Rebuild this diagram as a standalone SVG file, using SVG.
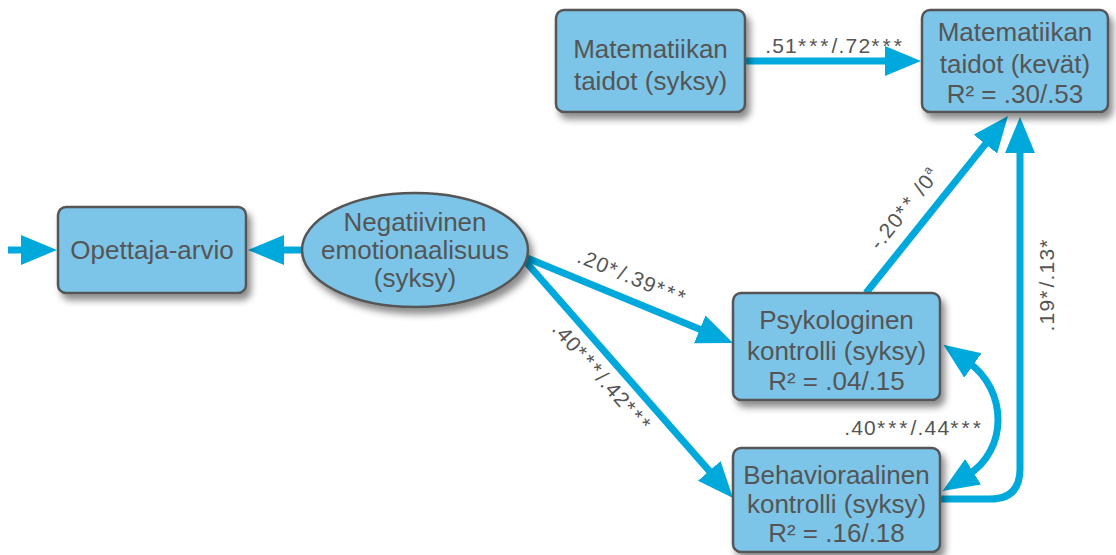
<svg xmlns="http://www.w3.org/2000/svg" width="1116" height="555" viewBox="0 0 1116 555">
<defs>
<filter id="sh" x="-20%" y="-20%" width="140%" height="150%">
<feDropShadow dx="4" dy="6" stdDeviation="3.5" flood-color="#000" flood-opacity="0.45"/>
</filter>
<marker id="ah" markerUnits="userSpaceOnUse" markerWidth="38" markerHeight="32" refX="6" refY="15" orient="auto-start-reverse">
<path d="M0,0 L36,15 L0,30 Z" fill="#00a9dc"/>
</marker>
</defs>
<style>
.box{fill:#7cc5e8;stroke:#555;stroke-width:2.5}
.t{font-family:"Liberation Sans",Arial,sans-serif;font-size:26px;fill:#555;text-anchor:middle}
.l{font-family:"Liberation Sans",Arial,sans-serif;font-size:21px;fill:#555;text-anchor:middle;letter-spacing:1.2px}
.s{letter-spacing:3px}
.c{fill:none;stroke:#00a9dc;stroke-width:7;marker-end:url(#ah)}
</style>
<g id="connectors">
<path class="c" d="M8,250 L27,250"/>
<path class="c" d="M302,250 L278,250"/>
<path class="c" d="M745,61 L891,61"/>
<path class="c" d="M527,258 L705.3,331.6"/>
<path class="c" d="M526,262 L713.2,475.4"/>
<path class="c" d="M866,293 L989.2,139.4"/>
<path class="c" d="M940,499 L990,499 Q1020,499 1020,469 L1020,147"/>
<path class="c" d="M968,362 C1008,390 1008,450 968,475" style="marker-start:url(#ah)"/>
</g>
<g id="labels">
<text class="l" x="835" y="53">.51<tspan class="s">***</tspan>/.72<tspan class="s">***</tspan></text>
<text class="l" transform="translate(630,284) rotate(22.4)">.20<tspan class="s">*</tspan>/.39<tspan class="s">***</tspan></text>
<text class="l" transform="translate(597,382) rotate(48.7)">.40<tspan class="s">***</tspan>/.42<tspan class="s">***</tspan></text>
<text class="l" transform="translate(910,213) rotate(-51.3)">-.20<tspan class="s">**</tspan> /0<tspan font-size="12" dy="-9">a</tspan></text>
<text class="l" transform="translate(1054,284) rotate(-90)">.19<tspan class="s">*</tspan>/.13<tspan class="s">*</tspan></text>
<text class="l" x="914" y="435">.40<tspan class="s">***</tspan>/.44<tspan class="s">***</tspan></text>
</g>
<g id="mat-syksy">
<rect class="box" x="556" y="10" width="189" height="102" rx="8" filter="url(#sh)"/>
<text class="t" x="650.5" y="58">Matematiikan</text>
<text class="t" x="650.5" y="90">taidot (syksy)</text>
</g>
<g id="mat-kevat">
<rect class="box" x="922" y="10" width="186" height="102" rx="8" filter="url(#sh)"/>
<text class="t" x="1015" y="41">Matematiikan</text>
<text class="t" x="1015" y="73">taidot (kevät)</text>
<text class="t" x="1015" y="103">R² = .30/.53</text>
</g>
<g id="opettaja">
<rect class="box" x="58" y="207" width="188" height="86" rx="8" filter="url(#sh)"/>
<text class="t" x="152" y="259">Opettaja-arvio</text>
</g>
<g id="negatiivinen">
<ellipse class="box" cx="415" cy="250" rx="113" ry="57" filter="url(#sh)"/>
<text class="t" x="415" y="231">Negatiivinen</text>
<text class="t" x="415" y="259">emotionaalisuus</text>
<text class="t" x="415" y="287">(syksy)</text>
</g>
<g id="psykologinen">
<rect class="box" x="733" y="293" width="207" height="107" rx="8" filter="url(#sh)"/>
<text class="t" x="836.5" y="329">Psykologinen</text>
<text class="t" x="836.5" y="360">kontrolli (syksy)</text>
<text class="t" x="836.5" y="390">R² = .04/.15</text>
</g>
<g id="behavioraalinen">
<rect class="box" x="733" y="448" width="207" height="104" rx="8" filter="url(#sh)"/>
<text class="t" x="836.5" y="484">Behavioraalinen</text>
<text class="t" x="836.5" y="513">kontrolli (syksy)</text>
<text class="t" x="836.5" y="542">R² = .16/.18</text>
</g>
</svg>
